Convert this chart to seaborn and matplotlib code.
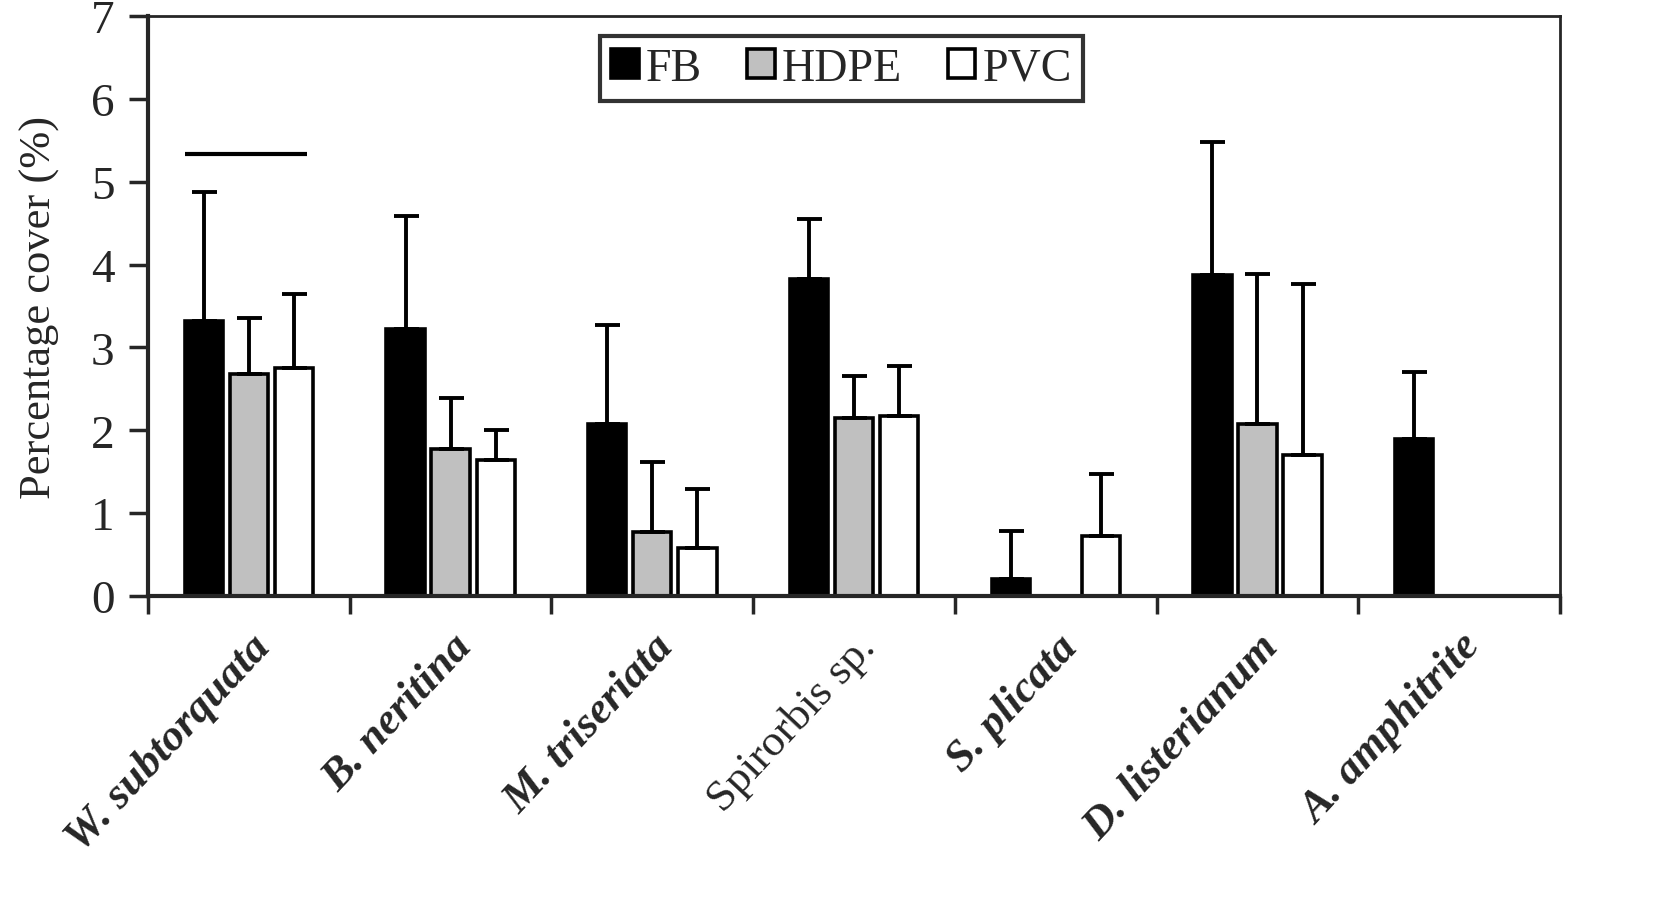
import pandas as pd
import matplotlib
matplotlib.use("Agg")
import matplotlib.pyplot as plt
import seaborn as sns

# Datos
especies = ["W. subtorquata", "B. neritina", "M. triseriata", "Spirorbis sp.",
            "S. plicata", "D. listerianum", "A. amphitrite"]
materiales = ["FB", "HDPE", "PVC"]
media_fb = [3.32, 3.22, 2.08, 3.83, 0.20, 3.87, 1.89]
media_hdpe = [2.68, 1.77, 0.77, 2.15, 0.0, 2.07, 0.0]
media_pvc = [2.75, 1.64, 0.58, 2.17, 0.72, 1.70, 0.0]
sup_fb = [4.88, 4.59, 3.27, 4.55, 0.78, 5.48, 2.70]
sup_hdpe = [3.36, 2.39, 1.62, 2.66, 0.0, 3.89, 0.0]
sup_pvc = [3.64, 2.00, 1.29, 2.78, 1.47, 3.77, 0.0]
linea_sig = 5.33
colores = {"FB": "black", "HDPE": "#c0c0c0", "PVC": "white"}

filas = []
for m, med, sup in zip(materiales, [media_fb, media_hdpe, media_pvc],
                       [sup_fb, sup_hdpe, sup_pvc]):
    for e, v, s in zip(especies, med, sup):
        filas.append({"especie": e, "material": m, "media": v, "sup": s})
df = pd.DataFrame(filas)

sns.set_style("ticks")
plt.rcParams["font.family"] = ["Liberation Serif", "DejaVu Serif"]

fig = plt.figure(figsize=(16.54, 9.04), dpi=100)
ax = fig.add_axes([0.0895, 0.3396, 0.8537, 0.6416])

sns.barplot(data=df, x="especie", y="media", hue="material", order=especies,
            hue_order=materiales, palette=colores, edgecolor="black",
            linewidth=2.6, width=0.67, gap=0.15, errorbar=None, ax=ax)

# Barras de error solo hacia arriba
for cont, m in zip(ax.containers, materiales):
    sub = df[df["material"] == m].set_index("especie").loc[especies]
    for barra, (_, fila) in zip(cont, sub.iterrows()):
        if fila["sup"] > fila["media"]:
            xc = barra.get_x() + barra.get_width() / 2
            ax.errorbar(xc, fila["media"], yerr=[[0], [fila["sup"] - fila["media"]]],
                        fmt="none", ecolor="black", elinewidth=2.8, capsize=9,
                        capthick=2.8, zorder=1)

# Linea horizontal sobre el primer grupo
b0 = ax.containers[0][0]
b2 = ax.containers[2][0]
ax.hlines(linea_sig, b0.get_x(), b2.get_x() + b2.get_width() * 0.85,
          color="black", linewidth=3)

ax.set_xlim(-0.5, len(especies) - 0.5)
ax.set_ylim(0, 7)
ax.set_yticks(range(0, 8))
ax.set_ylabel("Percentage cover (%)", fontsize=32, labelpad=22)
ax.set_xlabel("")
ax.tick_params(axis="y", labelsize=34, length=14, width=2.5, direction="out", pad=10)

# Ticks en los limites entre grupos
ax.set_xticks([i - 0.5 for i in range(len(especies) + 1)], minor=True)
ax.tick_params(axis="x", which="minor", length=13, width=2.5, direction="out")
ax.tick_params(axis="x", which="major", length=0, pad=22)
ax.set_xticks(range(len(especies)))
ax.set_xticklabels(especies, rotation=47, ha="right", rotation_mode="anchor",
                   fontsize=32, fontweight="bold", fontstyle="italic")
for lbl in ax.get_xticklabels():
    if lbl.get_text() == "Spirorbis sp.":
        lbl.set_fontweight("normal")
        lbl.set_fontstyle("normal")

for lado in ["left", "bottom"]:
    ax.spines[lado].set_linewidth(3)
for lado in ["top", "right"]:
    ax.spines[lado].set_visible(True)
    ax.spines[lado].set_linewidth(2)

leg = ax.legend(loc="upper center", bbox_to_anchor=(0.491, 0.966), ncol=3,
                fontsize=33, frameon=True, fancybox=False, edgecolor="black",
                handlelength=0.6, handleheight=0.6, handletextpad=0.15,
                columnspacing=1.0, borderpad=0.25, borderaxespad=0, title=None)
leg.get_frame().set_linewidth(3)

plt.savefig("out.png", dpi=100)
